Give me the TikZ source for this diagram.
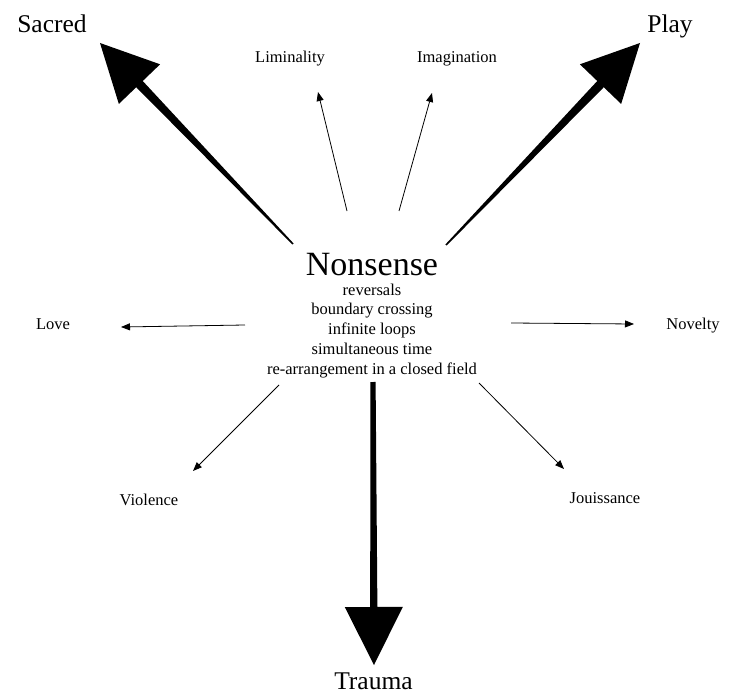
\documentclass[tikz,border=0pt]{standalone}
\usepackage{fontspec}
\setmainfont{Liberation Serif}
\usetikzlibrary{arrows.meta,calc}
\tikzset{
  biglabel/.style={font=\fontsize{25.5}{28}\selectfont, inner sep=0pt, anchor=base},
  smalllabel/.style={font=\fontsize{16.5}{18}\selectfont, inner sep=0pt, anchor=base},
  midline/.style={font=\fontsize{16.5}{18}\selectfont, inner sep=0pt, anchor=base},
  thinarrow/.style={line width=0.8pt, -{Triangle[length=9pt,width=7pt]}},
  fatfill/.style={fill=black, draw=none}
}
\newcommand\fatarrow[6]{% tail, tip, head length, head half width, tail half width, base half width
  \coordinate (fbase) at ($(#2)!#3pt!(#1)$);
  \fill[fatfill] ($(#1)!#5pt!90:(#2)$) -- ($(fbase)!#6pt!-90:(#1)$)
    -- ($(fbase)!#4pt!-90:(#1)$) -- (#2)
    -- ($(fbase)!#4pt!90:(#1)$) -- ($(fbase)!#6pt!90:(#1)$)
    -- ($(#1)!#5pt!-90:(#2)$) -- cycle;
}
\begin{document}
\begin{tikzpicture}[x=1pt,y=-1pt]
\useasboundingbox (0,0) rectangle (737,693);
% labels
\node[biglabel] (sacred) at (52,33) {Sacred};
\node[biglabel] (play) at (670,33) {Play};
\node[biglabel] (trauma) at (373.5,689) {Trauma};
\node[smalllabel] (lim) at (290,63) {Liminality};
\node[smalllabel] (ima) at (457,63) {Imagination};
\node[smalllabel] (love) at (53,329) {Love};
\node[smalllabel] (nov) at (693,329) {Novelty};
\node[smalllabel] (vio) at (149,505) {Violence};
\node[smalllabel] (jou) at (605,503) {Jouissance};
% centre
\node[font=\fontsize{34}{36}\selectfont, inner sep=0pt, anchor=base] (non) at (372,275) {Nonsense};
\node[midline] (l1) at (372,295) {reversals};
\node[midline] (l2) at (372,314) {boundary crossing};
\node[midline] (l3) at (372,334) {infinite loops};
\node[midline] (l4) at (372,354) {simultaneous time};
\node[midline] (l5) at (372,374) {re-arrangement in a closed field};
% fat arrow ends
\coordinate (sacT) at (293,244);
\coordinate (sacH) at (100,43);
\coordinate (plaT) at (446,245);
\coordinate (plaH) at (640,43);
\coordinate (traT) at (373,382);
\coordinate (traH) at (374,665);
\fatarrow{sacT}{sacH}{57}{28.6}{0.8}{4.5}
\fatarrow{plaT}{plaH}{57}{28.6}{0.8}{4.5}
\fatarrow{traT}{traH}{58}{29}{2.6}{3.6}
% thin arrows
\coordinate (limS) at (347,211); \coordinate (limE) at (318,92);
\coordinate (imaS) at (399,211); \coordinate (imaE) at (432,93);
\coordinate (loveS) at (245,325); \coordinate (loveE) at (121,327);
\coordinate (novS) at (511,323); \coordinate (novE) at (634,324);
\coordinate (vioS) at (279,385); \coordinate (vioE) at (193,471);
\coordinate (jouS) at (479,383); \coordinate (jouE) at (564,469);
\draw[thinarrow] (limS) -- (limE);
\draw[thinarrow] (imaS) -- (imaE);
\draw[thinarrow] (loveS) -- (loveE);
\draw[thinarrow] (novS) -- (novE);
\draw[thinarrow] (vioS) -- (vioE);
\draw[thinarrow] (jouS) -- (jouE);
\end{tikzpicture}
\end{document}
